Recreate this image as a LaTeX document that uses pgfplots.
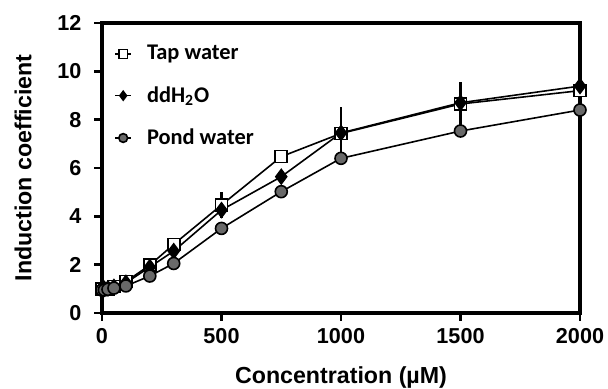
\documentclass[border=0pt]{standalone}
\usepackage{pgfplots}
\pgfplotsset{compat=1.18}
\usepackage{fontspec}
\setmainfont{Liberation Sans}
\newfontfamily\legfont{Carlito}
\definecolor{pondgray}{RGB}{105,105,105}
\begin{document}
\begin{tikzpicture}
\path[use as bounding box] (-51pt,-38pt) rectangle (253pt,156.5pt);
\begin{axis}[
  at={(0,0)}, anchor=south west,
  scale only axis, width=239pt, height=145pt,
  xmin=0, xmax=2000, ymin=0, ymax=12,
  xtick={0,500,1000,1500,2000}, ytick={0,2,4,6,8,10,12},
  tick align=outside, major tick length=3.8pt,
  xtick pos=bottom, ytick pos=left,
  axis line style={line width=1.6pt},
  every tick/.style={line width=1.4pt, black},
  /pgf/number format/assume math mode=true,
  /pgf/number format/1000 sep={},
  tick label style={font=\bfseries\fontsize{10.8}{12}\selectfont},
  yticklabel style={xshift=-3pt},
  xticklabel style={yshift=-0.5pt},
  xlabel={Concentration (µM)}, ylabel={Induction coefficient},
  label style={font=\bfseries\fontsize{11.6}{13}\selectfont},
  xlabel style={at={(axis description cs:0.5,-0.222)}, anchor=center},
  ylabel style={at={(axis description cs:-0.165,0.5)}, anchor=center},
  clip=false,
  legend style={draw=none, fill=none, at={(0.0,0.98)}, anchor=north west,
    font=\legfont\bfseries\fontsize{11.2}{13}\selectfont, row sep=7.8pt,
    inner xsep=6pt, inner ysep=6pt},
  legend cell align=left,
  legend image code/.code={
    \draw[#1, mark repeat=2, mark phase=2, mark size=2.2pt]
      plot coordinates {(0pt,0pt) (4pt,0pt) (8pt,0pt)};
    \path (13.5pt,0pt);},
]
% Tap water
\addplot[black, line width=0.8pt, mark=square*, mark size=3pt,
  mark options={fill=white, line width=0.8pt},
  error bars/.cd, y dir=both, y explicit, error bar style={line width=1.2pt}, error mark=none]
  coordinates {
  (0,1.0) +- (0,0.05)
  (10,1.0) +- (0,0.05)
  (25,1.0) +- (0,0.05)
  (50,1.1) +- (0,0.05)
  (100,1.3) +- (0,0.1)
  (200,1.98) +- (0,0.1)
  (300,2.84) +- (0,0.1)
  (500,4.47) +- (0,0.55)
  (750,6.47) +- (0,0.2)
  (1000,7.43) +- (0,1.08)
  (1500,8.65) +- (0,0.92)
  (2000,9.2) +- (0,0.15)
  };
\addlegendentry{Tap water}
% ddH2O
\addplot[black, line width=0.8pt, mark=diamond*, mark size=3.6pt,
  mark options={fill=black}]
  coordinates {
  (0,1.0) (10,1.0) (25,1.02) (50,1.08) (100,1.25) (200,1.9) (300,2.56)
  (500,4.26) (750,5.64) (1000,7.45) (1500,8.7) (2000,9.39)
  };
\addlegendentry{ddH\textsubscript{2}O}
% Pond water
\addplot[black, line width=0.8pt, mark=*, mark size=3pt,
  mark options={fill=pondgray, line width=0.8pt}]
  coordinates {
  (0,0.95) (10,0.95) (25,0.98) (50,1.03) (100,1.12) (200,1.53) (300,2.05)
  (500,3.5) (750,5.02) (1000,6.4) (1500,7.53) (2000,8.4)
  };
\addlegendentry{Pond water}
\end{axis}
\end{tikzpicture}
\end{document}
